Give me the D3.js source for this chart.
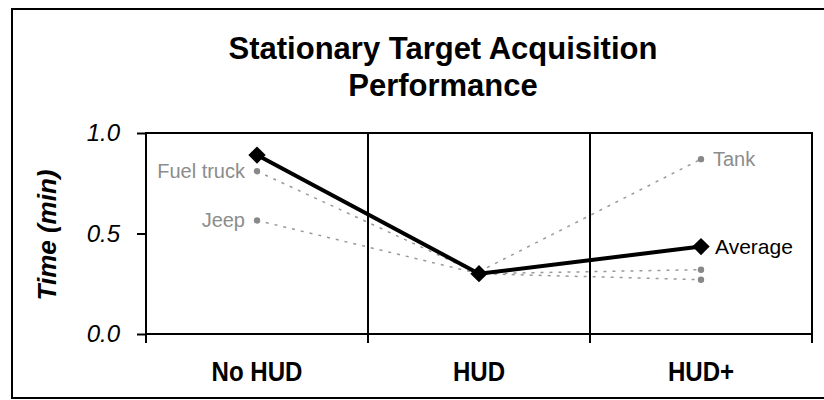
<!DOCTYPE html>
<html>
<head>
<meta charset="utf-8">
<script src="https://cdn.jsdelivr.net/npm/d3@7"></script>
<style>
  body { margin: 0; background: #fff; }
  text { font-family: "Liberation Sans", Arial, sans-serif; }
</style>
</head>
<body>
<script>
// chart data
var categories = ["No HUD", "HUD", "HUD+"];
var average = [0.89, 0.30, 0.435];
var fuelTruck = [0.81, 0.30, 0.32];
var jeep = [0.565, 0.30, 0.27];
var tank = [null, 0.31, 0.87];
var yTicks = [0, 0.5, 1.0];

var targets = [
  {name: "Fuel truck", values: fuelTruck, label: 0, side: "left"},
  {name: "Jeep", values: jeep, label: 0, side: "left"},
  {name: "Tank", values: tank, label: 2, side: "right"}
];

var W = 824, H = 400;
var plot = {left: 146, right: 812, top: 133, bottom: 334};

var svg = d3.select("body").append("svg")
    .attr("width", W)
    .attr("height", H);

// outer chart border (right side runs off the picture)
svg.append("rect")
    .attr("x", 12).attr("y", 9)
    .attr("width", 862).attr("height", 389)
    .attr("fill", "none")
    .attr("stroke", "#000")
    .attr("stroke-width", 2);

//title
svg.append("text")
    .attr("x", 443).attr("y", 59)
    .attr("text-anchor", "middle")
    .style("font-size", "31px").style("font-weight", "bold")
    .text("Stationary Target Acquisition");
svg.append("text")
    .attr("x", 443).attr("y", 96)
    .attr("text-anchor", "middle")
    .style("font-size", "31px").style("font-weight", "bold")
    .text("Performance");

var x = d3.scaleBand().domain(categories).range([plot.left, plot.right]).padding(0);
var y = d3.scaleLinear().domain([0, 1]).range([plot.bottom, plot.top]);

// plot frame
svg.append("rect")
    .attr("x", plot.left).attr("y", plot.top)
    .attr("width", plot.right - plot.left).attr("height", plot.bottom - plot.top)
    .attr("fill", "none")
    .attr("stroke", "#000")
    .attr("stroke-width", 2);

// category boundaries, with tick marks below the axis
var bounds = categories.map(function(c) { return x(c); }).concat([plot.right]);
svg.selectAll(".bound")
    .data(bounds)
    .enter().append("line")
    .attr("class", "bound")
    .attr("x1", function(d) { return d; })
    .attr("x2", function(d) { return d; })
    .attr("y1", plot.top)
    .attr("y2", plot.bottom + 9)
    .attr("stroke", "#000")
    .attr("stroke-width", 2);

// y axis
var yAxis = svg.append("g")
    .attr("transform", "translate(" + plot.left + ",0)")
    .call(d3.axisLeft(y).tickValues(yTicks).tickFormat(d3.format(".1f"))
        .tickSizeInner(9).tickSizeOuter(0).tickPadding(17));
yAxis.select(".domain").remove();
yAxis.selectAll("line").attr("stroke", "#000").attr("stroke-width", 2);
yAxis.selectAll("text")
    .style("font-family", "'Liberation Sans', Arial, sans-serif")
    .style("font-size", "24px")
    .style("font-style", "italic")
    .attr("fill", "#000");

svg.append("text")
    .attr("transform", "translate(56,235) rotate(-90)")
    .attr("text-anchor", "middle")
    .style("font-size", "26px")
    .style("font-weight", "bold")
    .style("font-style", "italic")
    .text("Time (min)");

// x axis labels (narrow bold in the original, so squeeze them a bit)
var xAxis = svg.append("g")
    .attr("transform", "translate(0," + plot.bottom + ")")
    .call(d3.axisBottom(x).tickSize(0).tickPadding(27));
xAxis.select(".domain").remove();
xAxis.selectAll("text")
    .style("font-family", "'Liberation Sans', Arial, sans-serif")
    .style("font-size", "28px")
    .style("font-weight", "bold")
    .attr("transform", "scale(0.86,1)")
    .attr("fill", "#000");

var cx = function(i) { return x(categories[i]) + x.bandwidth() / 2; };

var line = d3.line()
    .defined(function(d) { return d != null; })
    .x(function(d, i) { return cx(i); })
    .y(function(d) { return y(d); });

// individual targets, grey dashed
targets.forEach(function(t) {
  svg.append("path")
      .datum(t.values)
      .attr("d", line)
      .attr("fill", "none")
      .attr("stroke", "#999")
      .attr("stroke-width", 1.5)
      .attr("stroke-dasharray", "3,6");
  svg.selectAll(null)
      .data(t.values.map(function(v, i) { return {v: v, i: i}; })
          .filter(function(d) { return d.v != null; }))
      .enter().append("circle")
      .attr("cx", function(d) { return cx(d.i); })
      .attr("cy", function(d) { return y(d.v); })
      .attr("r", 3.2)
      .attr("fill", "#888");
  svg.append("text")
      .attr("x", cx(t.label) + (t.side == "left" ? -12 : 12))
      .attr("y", y(t.values[t.label]))
      .attr("dy", "0.35em")
      .attr("text-anchor", t.side == "left" ? "end" : "start")
      .attr("fill", "#8c8c8c")
      .style("font-size", "20px")
      .text(t.name);
});

// average line
svg.append("path")
    .datum(average)
    .attr("d", line)
    .attr("fill", "none")
    .attr("stroke", "#000")
    .attr("stroke-width", 4);

svg.selectAll(".avg")
    .data(average)
    .enter().append("path")
    .attr("class", "avg")
    .attr("d", d3.symbol().type(d3.symbolSquare).size(150))
    .attr("transform", function(d, i) { return "translate(" + cx(i) + "," + y(d) + ") rotate(45)"; })
    .attr("fill", "#000");

svg.append("text")
    .attr("x", cx(2) + 14)
    .attr("y", y(average[2]))
    .attr("dy", "0.35em")
    .style("font-size", "21px")
    .text("Average");
</script>
</body>
</html>
